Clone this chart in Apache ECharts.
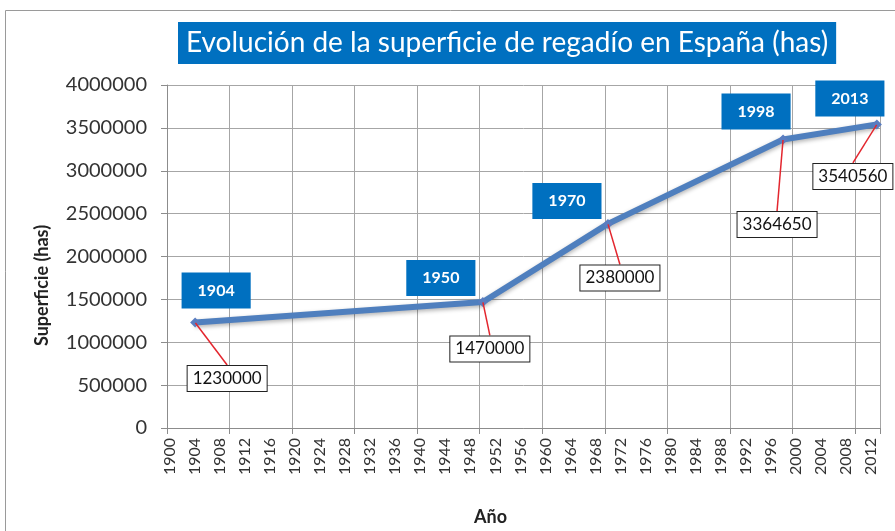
<!DOCTYPE html>
<html>
<head>
<meta charset="utf-8">
<script src="https://cdn.jsdelivr.net/npm/echarts@6/dist/echarts.min.js"></script>
<style>
html,body{margin:0;padding:0;background:#fff}
#chart{width:895px;height:531px}
</style>
</head>
<body>
<div id="chart"></div>
<script>
// superficie de regadio en España, datos por año

// categorias del eje X: un año por categoria
var firstYear = 1900
var lastYear = 2013
var years = []
for (var y = firstYear; y <= lastYear; y++) years.push(String(y))

// puntos de la serie
var pointYears = ['1904', '1950', '1970', '1998', '2013']
var surface = [1230000, 1470000, 2380000, 3364650, 3540560]

// eje Y
var yMin = 0
var yMax = 4000000
var yStep = 500000

// desplazamiento de las etiquetas respecto al punto (px)
var yearBoxOffset = [[21, -32], [-42, -24], [-41, -23], [-27, -28], [-27, -26]]
var valueBoxOffset = [[32, 56], [7, 47], [12, 54], [-6, 85], [-24, 52]]

var FONT = 'Lato'

function initChart() {
    var chart = echarts.init(document.getElementById('chart'))
    var pts = pointYears.map(function (yr, i) { return [yr, surface[i]] })

    var option = {
        animation: false,
        textStyle: {fontFamily: FONT},
        title: {
            text: 'Evolución de la superficie de regadío en España (has)',
            left: 178,
            top: 22,
            backgroundColor: '#0070C0',
            padding: [7, 8, 7, 8],
            textStyle: {color: '#fff', fontFamily: FONT, fontSize: 28, lineHeight: 28, fontWeight: 'normal'}
        },
        graphic: [{
            type: 'rect',
            shape: {x: 5.5, y: 10.5, width: 900, height: 540},
            style: {fill: 'none', stroke: '#9a9a9a', lineWidth: 1},
            silent: true
        }],
        grid: {left: 167, right: 15, top: 85, bottom: 103},
        xAxis: {
            type: 'category',
            data: years,
            boundaryGap: true,
            name: 'Año',
            nameLocation: 'middle',
            nameGap: 80,
            nameTextStyle: {fontFamily: FONT, fontSize: 18, fontWeight: 'bold', color: '#222', padding: [0, 66, 0, 0]},
            axisLine: {lineStyle: {color: '#8c8c8c'}},
            axisTick: {show: true, interval: 9, length: 6, lineStyle: {color: '#8c8c8c'}},
            axisLabel: {interval: 3, rotate: 90, fontSize: 16, color: '#333', margin: 10},
            splitLine: {show: true, interval: 9, lineStyle: {color: '#a6a6a6'}}
        },
        yAxis: {
            type: 'value',
            min: yMin,
            max: yMax,
            interval: yStep,
            name: 'Superficie (has)',
            nameLocation: 'middle',
            nameGap: 116,
            nameTextStyle: {fontFamily: FONT, fontSize: 18, fontWeight: 'bold', color: '#222', padding: [0, 58, 0, 0]},
            axisLine: {show: true, lineStyle: {color: '#8c8c8c'}},
            axisTick: {show: true, length: 6, lineStyle: {color: '#8c8c8c'}},
            axisLabel: {fontSize: 20, color: '#333', margin: 20, formatter: function (v) { return String(v) }},
            splitLine: {show: true, lineStyle: {color: '#a6a6a6'}}
        },
        series: [
            {
                name: 'Superficie',
                type: 'line',
                data: pts,
                symbol: 'diamond',
                symbolSize: 10,
                showAllSymbol: true,
                lineStyle: {
                    color: '#4F7FBE', width: 6,
                    shadowColor: 'rgba(0,0,0,0.3)', shadowBlur: 4, shadowOffsetY: 2
                },
                itemStyle: {color: '#5A7DC0'},
                z: 3
            },
            {
                name: 'años',
                type: 'scatter',
                data: pts,
                symbolSize: 0,
                silent: true,
                z: 6,
                itemStyle: {opacity: 1},
                label: {
                    show: true,
                    position: 'inside',
                    formatter: function (p) { return p.value[0] },
                    color: '#fff',
                    fontFamily: FONT,
                    fontSize: 16,
                    fontWeight: 'bold',
                    backgroundColor: '#0070C0',
                    padding: [10, 16]
                },
                labelLayout: function (p) {
                    var o = yearBoxOffset[p.dataIndex]
                    return {dx: o[0], dy: o[1]}
                }
            },
            {
                name: 'valores',
                type: 'scatter',
                data: pts,
                symbolSize: 1,
                silent: true,
                z: 5,
                itemStyle: {opacity: 1, color: 'transparent'},
                label: {
                    show: true,
                    position: 'inside',
                    formatter: function (p) { return p.value[1] },
                    color: '#111',
                    fontFamily: FONT,
                    fontSize: 17,
                    backgroundColor: '#fff',
                    borderColor: '#222',
                    borderWidth: 1,
                    padding: [4, 5]
                },
                labelLine: {show: true, lineStyle: {color: '#E3262E', width: 1.5}},
                labelLayout: function (p) {
                    var o = valueBoxOffset[p.dataIndex]
                    return {dx: o[0], dy: o[1]}
                }
            }
        ]
    }
    chart.setOption(option)
}

initChart()
</script>
</body>
</html>
